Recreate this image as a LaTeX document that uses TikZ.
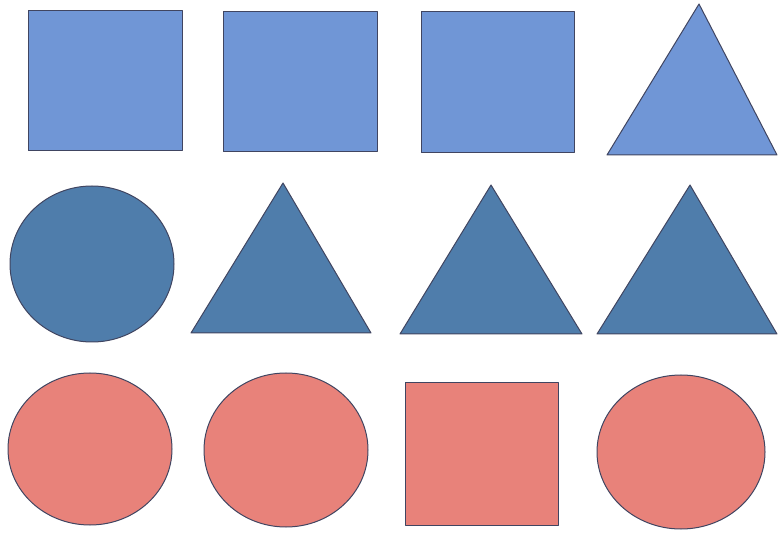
\documentclass[tikz,border=0pt]{standalone}
\usetikzlibrary{calc}
\definecolor{TopClr}{rgb}{0.44,0.59,0.84}
\definecolor{MidClr}{rgb}{0.31,0.49,0.67}
\definecolor{LowClr}{rgb}{0.91,0.51,0.48}
\definecolor{EdgeClr}{rgb}{0.25,0.27,0.38}

\begin{document}
\begin{tikzpicture}[x=1pt,y=-1pt,
  figure/.style={draw=EdgeClr,line width=1pt,line join=round},
  top/.style={figure,fill=TopClr},
  mid/.style={figure,fill=MidClr},
  low/.style={figure,fill=LowClr}]
\useasboundingbox (0,0) rectangle (779,534);

% first row
\draw[top] (28,11) rectangle (182,151);
\draw[top] (223,12) rectangle (377,152);
\draw[top] (421,12) rectangle (574,153);
\draw[top] (699,4) -- (777,155) -- (607,155) -- cycle;

% second row
\draw[mid] (92,264) ellipse [x radius=82,y radius=78];
\draw[mid] (283,183) -- (371,333) -- (191,333) -- cycle;
\draw[mid] (491,185) -- (582,334) -- (400,334) -- cycle;
\draw[mid] (690,185) -- (777,334) -- (597,334) -- cycle;

% third row
\draw[low] (90,449) ellipse [x radius=82,y radius=76];
\draw[low] (286,450) ellipse [x radius=82,y radius=77];
\draw[low] (405,383) rectangle (558,525);
\draw[low] (681,452) ellipse [x radius=84,y radius=77];

\end{tikzpicture}
\end{document}
